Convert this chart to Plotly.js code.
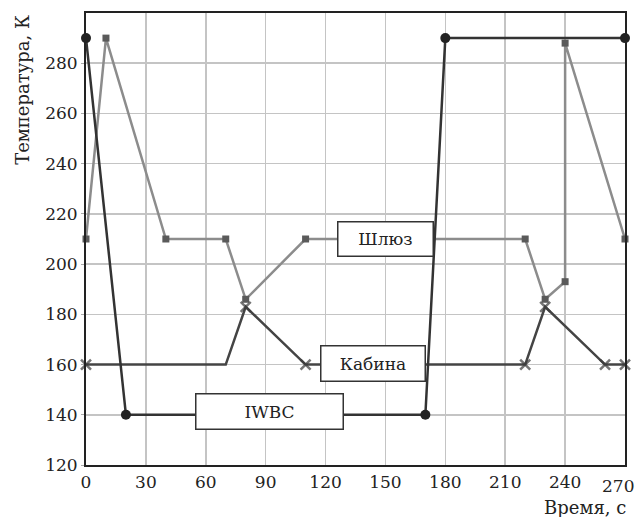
<!DOCTYPE html>
<html>
<head>
<meta charset="utf-8">
<script src="https://cdn.plot.ly/plotly-3.0.1.min.js"></script>
<style>html,body{margin:0;padding:0;background:#fff;}#chart{width:636px;height:517px;}</style>
</head>
<body>
<div id="chart"></div>
<script>
// Data
var iwbcTime = [0, 20, 170, 180, 270];
var iwbcTemp = [290, 140, 140, 290, 290];

var shlyuzTime = [0, 10, 40, 70, 80, 110, 220, 230, 240, 240, 270];
var shlyuzTemp = [210, 290, 210, 210, 186, 210, 210, 186, 193, 288, 210];

var kabinaTime = [0, 70, 80, 110, 220, 230, 260, 270];
var kabinaTemp = [160, 160, 183, 160, 160, 183, 160, 160];
var kabinaMarker = ['x-thin-open', 'circle-open', 'x-thin-open', 'x-thin-open', 'x-thin-open', 'x-thin-open', 'x-thin-open', 'x-thin-open'];
var kabinaMarkerSize = [10, 0, 10, 10, 10, 10, 10, 10];

var xTicks = [0, 30, 60, 90, 120, 150, 180, 210, 240, 270];
var yTicks = [120, 140, 160, 180, 200, 220, 240, 260, 280];

var seriesLabels = [
  {text: 'Шлюз', x: 150, y: 210, w: 92, h: 31},
  {text: 'Кабина', x: 144, y: 160.5, w: 101, h: 32},
  {text: 'IWBC', x: 92, y: 141.3, w: 144, h: 32}
];

var fontFam = 'DejaVu Serif, Liberation Serif, serif';
var lastX = xTicks[xTicks.length - 1];

var traces = [
  {
    x: shlyuzTime, y: shlyuzTemp, type: 'scatter', mode: 'lines+markers', name: 'Шлюз',
    line: {color: '#8c8c8c', width: 2.5},
    marker: {symbol: 'square', size: 7, color: '#5a5a5a'},
    cliponaxis: false
  },
  {
    x: kabinaTime, y: kabinaTemp, type: 'scatter', mode: 'lines+markers', name: 'Кабина',
    line: {color: '#444444', width: 2.5},
    marker: {symbol: kabinaMarker, size: kabinaMarkerSize, color: '#3a3a3a', line: {color: '#3a3a3a', width: 2.5}},
    cliponaxis: false
  },
  {
    x: iwbcTime, y: iwbcTemp, type: 'scatter', mode: 'lines+markers', name: 'IWBC',
    line: {color: '#333333', width: 2.5},
    marker: {symbol: 'circle', size: 10, color: '#222222'},
    cliponaxis: false
  }
];

var annotations = seriesLabels.map(function (s) {
  return {
    x: s.x, y: s.y, xref: 'x', yref: 'y', text: s.text, showarrow: false,
    bgcolor: '#ffffff', bordercolor: '#333333', borderwidth: 1.5,
    width: s.w, height: s.h, align: 'center', valign: 'middle',
    font: {family: fontFam, size: 17, color: '#222'}
  };
});

// last x tick label, nudged inside the page so it is not cut off
annotations.push({
  xref: 'paper', yref: 'paper', x: 1.02, y: -0.047, xanchor: 'right', yanchor: 'middle',
  text: String(lastX), showarrow: false, font: {family: fontFam, size: 17, color: '#222'}
});
annotations.push({
  xref: 'paper', yref: 'paper', x: 1.005, y: -0.094, xanchor: 'right', yanchor: 'middle',
  text: 'Время, с', showarrow: false, font: {family: fontFam, size: 18, color: '#222'}
});
annotations.push({
  xref: 'paper', yref: 'paper', x: -0.119, y: 1.0, xanchor: 'center', yanchor: 'top',
  text: 'Температура, К', textangle: -90, showarrow: false,
  font: {family: fontFam, size: 18, color: '#222'}
});

var layout = {
  width: 636, height: 517,
  margin: {l: 86, r: 11, t: 13, b: 52},
  paper_bgcolor: '#ffffff', plot_bgcolor: '#ffffff',
  showlegend: false,
  font: {family: fontFam, size: 17, color: '#222'},
  xaxis: {
    range: [0, 270], tickvals: xTicks,
    ticktext: xTicks.map(function (v) { return v === lastX ? '' : String(v); }),
    showgrid: true, gridcolor: '#c4c4c4', gridwidth: 1.5,
    showline: true, mirror: true, linecolor: '#222', linewidth: 2,
    zeroline: false, ticks: '', ticklen: 0, ticklabelstandoff: 1,
    tickfont: {family: fontFam, size: 17, color: '#222'}
  },
  yaxis: {
    range: [120, 300], tickvals: yTicks, ticktext: yTicks.map(String),
    showgrid: true, gridcolor: '#c4c4c4', gridwidth: 1.5,
    showline: true, mirror: true, linecolor: '#222', linewidth: 2,
    zeroline: false, ticks: 'outside', ticklen: 3, tickcolor: '#aaa',
    tickfont: {family: fontFam, size: 17, color: '#222'}
  },
  annotations: annotations
};

Plotly.newPlot('chart', traces, layout, {displayModeBar: false, staticPlot: true});
</script>
</body>
</html>
